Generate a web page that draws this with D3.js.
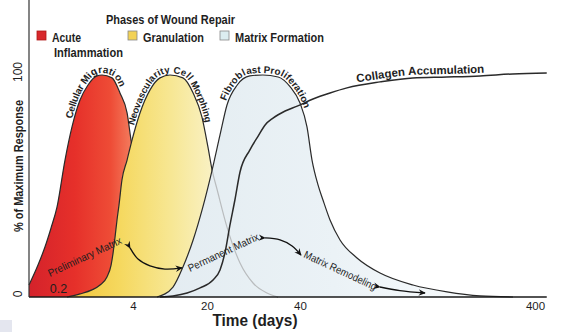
<!DOCTYPE html>
<html><head><meta charset="utf-8">
<script src="https://cdn.jsdelivr.net/npm/d3@7"></script>
<style>
body{margin:0;background:#fff}
svg{display:block}
text{font-family:"Liberation Sans",Arial,sans-serif;fill:#1e1e1e}
</style>
</head><body>
<svg id="c" width="564" height="332"></svg>
<script>
// ---------- data ----------
const xBreaks = [0, 0.2, 4, 20, 40, 400];           // days (non-uniform time axis)
const xTicks = [0.2, 4, 20, 40, 400];
const xTickLabels = ["0.2", "4", "20", "40", "400"];
const xEnd = 418;
const yTicks = [0, 100];
const yTickLabels = ["0", "100"];
const yTop = 134;

const legendTitle = "Phases of Wound Repair";
const phaseNames = ["Acute", "Granulation", "Matrix Formation"];
const phaseSub = ["Inflammation", "", ""];

// [day, % of maximum response]
const acute = [[0,5.4],[0.062,14.4],[0.11,22.5],[0.152,31.1],[0.193,40.5],[0.555,61.7],[0.909,76.6],[1.315,88.7],[1.72,95.5],[2.176,99.6],[2.43,100],[2.936,98.7],[3.34,91.9],[3.70,82.9],[3.90,70.7],[5.08,52.7],[5.95,30.2],[6.6,0]];
const granulation = [[0.656,0],[1.315,1.4],[1.92,3.2],[2.33,5.4],[2.68,9.0],[2.89,14.4],[2.99,19.8],[3.09,27.0],[3.19,34.7],[3.29,41.4],[3.44,52.7],[3.70,61.7],[3.95,70.7],[5.51,82.9],[7.68,93.3],[9.84,98.7],[12.0,100],[14.8,98.7],[17.0,91.9],[18.9,81.1],[20.2,67.6],[21.1,57.2],[22.2,48.2],[24.3,31.5],[27.1,15.3],[29.9,6.3],[32.9,1.8],[35.3,0]];
const fibroblast = [[9.19,0],[12.65,4.5],[14.8,13.5],[17.0,25.7],[19.1,40.5],[21.1,57.2],[22.8,73.0],[24.3,86.5],[26.5,95.5],[29.2,99.6],[32.0,100],[35.3,99.1],[37.9,94.6],[40,87.4],[50.7,76.6],[58.4,61.7],[67.6,50.5],[75.2,43.7],[86.0,34.7],[101.3,25.7],[127.3,17.6],[162.6,10.8],[213.1,5.4],[265.2,2.3],[315.8,0.5],[366.3,0]];
const collagen = [[9.84,0],[12.65,0.5],[15.7,1.8],[18.5,4.1],[21.3,7.7],[22.8,12.2],[23.9,20.3],[24.9,32.0],[26.0,43.7],[27.1,56.3],[29.2,66.2],[31.0,72.5],[32.5,77.5],[34.2,80.6],[36.8,83.8],[39.4,86.0],[59.9,89.2],[86,91.9],[112,94.2],[162.6,96.9],[213,98.7],[265,99.1],[316,99.6],[366,100.5],[418,100.9]];

const curveLabels = ["Cellular Migration", "Neovascularity Cell Morphing", "Fibroblast Proliferation", "Collagen Accumulation"];
const matrixLabels = ["Preliminary Matrix", "Permanent Matrix", "Matrix Remodeling"];
const arrow1 = [[3.85,22.1],[5.08,17.1],[7.68,14.0],[10.9,12.6],[14.6,13.1]];
const arrow2 = [[32.5,26.6],[35.7,25.7],[38.3,23.0],[41.5,18.9]];
const arrow3 = [[162.6,4.5],[193,2.9],[231.5,1.8]];

// ---------- chart ----------
const svg = d3.select("#c");
const xs = d3.scaleLinear().domain(xBreaks).range([29, 58, 133, 207, 300, 535]);
const ys = d3.scaleLinear().domain([0, 100]).range([297, 75]);

const defs = svg.append("defs");
function grad(id, x1, x2, stops){
  const g = defs.append("linearGradient").attr("id", id).attr("gradientUnits","userSpaceOnUse")
    .attr("x1", x1).attr("x2", x2).attr("y1", 0).attr("y2", 0);
  stops.forEach(s => g.append("stop").attr("offset", s[0]).attr("stop-color", s[1]));
}
grad("gRed", xs(0), xs(3.9), [[0,"#d4222b"],[0.45,"#e6302a"],[0.8,"#ee4c36"],[1,"#f37a5c"]]);
grad("gYel", xs(0.656), xs(22), [[0,"#f1c43a"],[0.35,"#f5d85e"],[0.7,"#f7e794"],[1,"#f9f2c8"]]);
grad("gBlu", xs(9.19), xs(366), [[0,"#e3ecf1"],[0.5,"#ebf2f6"],[1,"#fbfdfe"]]);

const line = d3.line().x(d => xs(d[0])).y(d => ys(d[1])).curve(d3.curveMonotoneX);
const area = d3.area().x(d => xs(d[0])).y0(ys(0)).y1(d => ys(d[1])).curve(d3.curveMonotoneX);

const stroke = "#2a2a2a";
svg.append("path").attr("d", area(acute)).attr("fill", "url(#gRed)");
svg.append("path").attr("d", line(acute)).attr("fill","none").attr("stroke",stroke).attr("stroke-width",1.2);
svg.append("path").attr("d", area(granulation)).attr("fill", "url(#gYel)");
svg.append("path").attr("d", line(granulation)).attr("fill","none").attr("stroke",stroke).attr("stroke-width",1.2);
svg.append("path").attr("d", area(fibroblast)).attr("fill", "url(#gBlu)");
defs.append("clipPath").attr("id","clipBlu").append("path").attr("d", area(fibroblast));
svg.append("path").attr("d", line(granulation)).attr("fill","none").attr("stroke","#b9bcbe").attr("stroke-width",1.2).attr("clip-path","url(#clipBlu)");
const pAcute = svg.append("path").attr("id","pA").attr("d", line(acute)).attr("fill","none");
const pGran = svg.append("path").attr("id","pG").attr("d", line(granulation)).attr("fill","none");
const pFib = svg.append("path").attr("id","pF").attr("d", line(fibroblast)).attr("fill","none").attr("stroke",stroke).attr("stroke-width",1.2);
const pCol = svg.append("path").attr("id","pC").attr("d", line(collagen)).attr("fill","none").attr("stroke",stroke).attr("stroke-width",1.5);

function lenAtX(node, px){
  let lo = 0, hi = node.getTotalLength();
  for (let i = 0; i < 40; i++){
    const m = (lo + hi) / 2;
    if (node.getPointAtLength(m).x < px) lo = m; else hi = m;
  }
  return lo;
}
function curveText(path, id, txt, startDay, dy, size, ls){
  const off = lenAtX(path.node(), xs(startDay));
  svg.append("text").attr("dy", dy).style("font-size", size + "px").style("font-weight","bold")
    .style("letter-spacing", ls + "px")
    .append("textPath").attr("href", "#" + id).attr("startOffset", off).text(txt);
}
curveText(pAcute, "pA", curveLabels[0], 1.0, -2, 10, -0.35);
curveText(pGran, "pG", curveLabels[1], 4.6, -2, 9.6, -0.2);
curveText(pFib, "pF", curveLabels[2], 24.5, -2, 9.8, -0.1);
curveText(pCol, "pC", curveLabels[3], 128, -3, 11.5, 0);

// arrows
defs.append("marker").attr("id", "ah").attr("viewBox","-1 -5 12 10").attr("refX", 8).attr("refY",0)
  .attr("markerWidth", 10).attr("markerHeight", 8).attr("markerUnits","userSpaceOnUse").attr("orient","auto")
  .append("path").attr("d","M0,-4L9,0L0,4L3,0Z").attr("fill","#111");
const aline = d3.line().x(d => xs(d[0])).y(d => ys(d[1])).curve(d3.curveCatmullRom);
[arrow1, arrow2, arrow3].forEach(a => {
  svg.append("path").attr("d", aline(a)).attr("fill","none").attr("stroke","#111").attr("stroke-width",1.3)
    .attr("marker-start","url(#ah)").attr("marker-end","url(#ah)");
});
const mpos = [[0.145, 9.0, -25, 80], [16.3, 11.3, -25, 77], [44.6, 18.0, 25, 79]];
matrixLabels.forEach((t, i) => {
  svg.append("text").attr("transform", `translate(${xs(mpos[i][0])},${ys(mpos[i][1])}) rotate(${mpos[i][2]})`)
    .attr("textLength", mpos[i][3]).attr("lengthAdjust","spacingAndGlyphs")
    .style("font-size","10.5px").text(t);
});

// axes
svg.append("line").attr("x1", xs(0)).attr("x2", xs(xEnd)).attr("y1", ys(0)).attr("y2", ys(0))
  .attr("stroke","#1a1a1a").attr("stroke-width",1.6);
svg.append("line").attr("x1", xs(0)).attr("x2", xs(0)).attr("y1", ys(0)).attr("y2", ys(yTop))
  .attr("stroke","#333").attr("stroke-width",1.2);
const xa = svg.append("g").attr("transform", `translate(0,${ys(0)})`)
  .call(d3.axisBottom(xs).tickValues(xTicks).tickSize(0).tickPadding(5).tickFormat((d,i) => xTickLabels[i]));
xa.select(".domain").remove();
xa.attr("font-family", null).attr("font-size", null);
xa.selectAll("text").style("font-size","11.5px").attr("fill",null);
xa.selectAll(".tick").filter(d => d === xTicks[0]).select("text").attr("y", -13).style("font-size","12.5px");
yTicks.forEach((d, i) => {
  svg.append("text").attr("transform", `translate(18,${ys(d) - 3}) rotate(-90)`).attr("dy","0.35em")
    .attr("text-anchor","middle").style("font-size","12px").text(yTickLabels[i]);
});
svg.append("text").attr("transform","translate(18,166) rotate(-90)").attr("dy","0.35em").attr("text-anchor","middle")
  .attr("textLength",132).attr("lengthAdjust","spacingAndGlyphs")
  .style("font-size","13px").style("font-weight","bold").text("% of Maximum Response");
svg.append("text").attr("x", 255).attr("y", 326).attr("text-anchor","middle")
  .attr("textLength",85).attr("lengthAdjust","spacingAndGlyphs")
  .style("font-size","16px").style("font-weight","bold").text("Time (days)");

// legend
svg.append("text").attr("x", 106).attr("y", 24)
  .attr("textLength",129).attr("lengthAdjust","spacingAndGlyphs")
  .style("font-size","13.5px").style("font-weight","bold").text(legendTitle);
const lx = [37, 128, 220];
const lw = [29, 61, 89];
const lc = ["#d8282c", "#f2d257", "#dcedf0"];
phaseNames.forEach((n, i) => {
  svg.append("rect").attr("x", lx[i]).attr("y", 31).attr("width", 9).attr("height", 9)
    .attr("fill", lc[i]).attr("stroke", i === 0 ? "#b01818" : "#888").attr("stroke-width", 0.8);
  svg.append("text").attr("x", lx[i] + 15).attr("y", 42).attr("textLength", lw[i]).attr("lengthAdjust","spacingAndGlyphs")
    .style("font-size","13px").style("font-weight","bold").text(n);
  if (phaseSub[i]) svg.append("text").attr("x", lx[i] + 17).attr("y", 57).attr("textLength", 69).attr("lengthAdjust","spacingAndGlyphs")
    .style("font-size","13px").style("font-weight","bold").text(phaseSub[i]);
});
svg.append("rect").attr("x",0).attr("y",320).attr("width",12).attr("height",12).attr("fill","#e4e6ef");
</script>
</body></html>
